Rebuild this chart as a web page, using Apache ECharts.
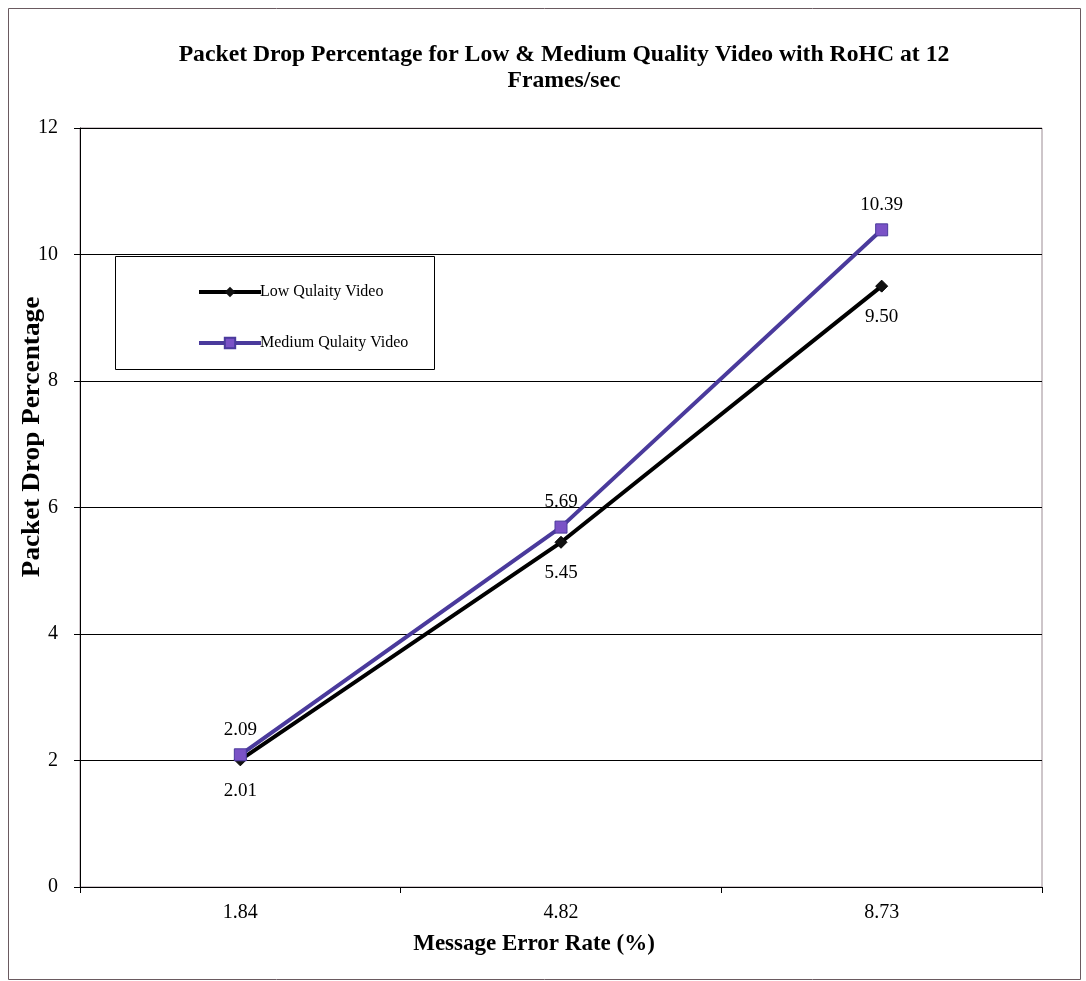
<!DOCTYPE html>
<html>
<head>
<meta charset="utf-8">
<script src="https://cdn.jsdelivr.net/npm/echarts@6/dist/echarts.min.js"></script>
<style>
  html, body { margin: 0; padding: 0; background: #ffffff; }
  #chart { width: 1086px; height: 981px; }
</style>
</head>
<body>
<div id="chart"></div>
<script>
// Message error rate categories (%)
const errorRates = ['1.84', '4.82', '8.73'];
// Packet drop percentage per video quality
const lowQuality = [2.01, 5.45, 9.50];
const mediumQuality = [2.09, 5.69, 10.39];
const seriesNames = ['Low Qulaity Video', 'Medium Qulaity Video'];

const serif = '"Liberation Serif", "Times New Roman", serif';

const chart = echarts.init(document.getElementById('chart'));

chart.setOption({
  backgroundColor: '#ffffff',
  animation: false,
  legend: {
    orient: 'vertical',
    left: 192,
    top: 279,
    itemGap: 35,
    itemWidth: 62,
    itemHeight: 13,
    z: 6,
    lineStyle: { width: 4 },
    textStyle: { fontFamily: serif, fontSize: 16, color: '#000000', padding: [0, 0, 0, -6] },
    data: seriesNames
  },
  grid: {
    left: 80,
    right: 44,
    top: 128,
    bottom: 94,
    show: true,
    borderColor: '#9c8c94',
    borderWidth: 1
  },
  xAxis: {
    type: 'category',
    data: errorRates,
    boundaryGap: true,
    axisLine: { lineStyle: { color: '#000000', width: 1 } },
    axisTick: { show: true, length: 6, lineStyle: { color: '#000000' } },
    axisLabel: { fontFamily: serif, fontSize: 20, color: '#000000', margin: 16 },
    splitLine: { show: false }
  },
  yAxis: {
    type: 'value',
    min: 0,
    max: 12,
    interval: 2,
    axisLine: { show: true, lineStyle: { color: '#000000', width: 1 } },
    axisTick: { show: true, length: 6, lineStyle: { color: '#000000' } },
    axisLabel: { fontFamily: serif, fontSize: 20, color: '#000000', margin: 22 },
    splitLine: { show: true, lineStyle: { color: '#000000', width: 1 } }
  },
  series: [
    {
      name: seriesNames[0],
      type: 'line',
      data: lowQuality,
      symbol: 'diamond',
      symbolSize: 12,
      lineStyle: { color: '#000000', width: 4 },
      itemStyle: { color: '#111111', borderColor: '#000000' },
      label: {
        show: true,
        position: 'bottom',
        distance: 15,
        formatter: p => p.value.toFixed(2),
        fontFamily: serif,
        fontSize: 19,
        color: '#000000'
      },
      z: 3
    },
    {
      name: seriesNames[1],
      type: 'line',
      data: mediumQuality,
      symbol: 'rect',
      symbolSize: 12,
      lineStyle: { color: '#4a3a9c', width: 4 },
      itemStyle: { color: '#7a52c6', borderColor: '#4a3a9c', borderWidth: 1 },
      label: {
        show: true,
        position: 'top',
        distance: 9,
        formatter: p => p.value.toFixed(2),
        fontFamily: serif,
        fontSize: 19,
        color: '#000000'
      },
      z: 4
    }
  ],
  graphic: [
    {
      // outer frame
      type: 'rect',
      shape: { x: 8.5, y: 8.5, width: 1072, height: 971 },
      style: { fill: 'none', stroke: '#6a5a60', lineWidth: 1 },
      z: 1
    },
    {
      // legend frame, above gridlines and below legend items
      type: 'rect',
      shape: { x: 115.5, y: 256.5, width: 319, height: 113 },
      style: { fill: '#ffffff', stroke: '#000000', lineWidth: 1 },
      z: 3
    },
    {
      // chart title
      type: 'text',
      x: 564,
      y: 68,
      scaleX: 1.03,
      style: {
        text: 'Packet Drop Percentage for Low & Medium Quality Video with RoHC at 12\nFrames/sec',
        fontFamily: serif,
        fontWeight: 'bold',
        fontSize: 23,
        lineHeight: 26,
        fill: '#000000',
        align: 'center',
        verticalAlign: 'middle'
      }
    },
    {
      // y axis title
      type: 'text',
      x: 33,
      y: 437,
      rotation: Math.PI / 2,
      scaleX: 1.09,
      style: {
        text: 'Packet Drop Percentage',
        fontFamily: serif,
        fontWeight: 'bold',
        fontSize: 25,
        fill: '#000000',
        align: 'center',
        verticalAlign: 'middle'
      }
    },
    {
      // x axis title
      type: 'text',
      x: 534,
      y: 944,
      style: {
        text: 'Message Error Rate (%)',
        fontFamily: serif,
        fontWeight: 'bold',
        fontSize: 23,
        fill: '#000000',
        align: 'center',
        verticalAlign: 'middle'
      }
    }
  ]
});
</script>
</body>
</html>
